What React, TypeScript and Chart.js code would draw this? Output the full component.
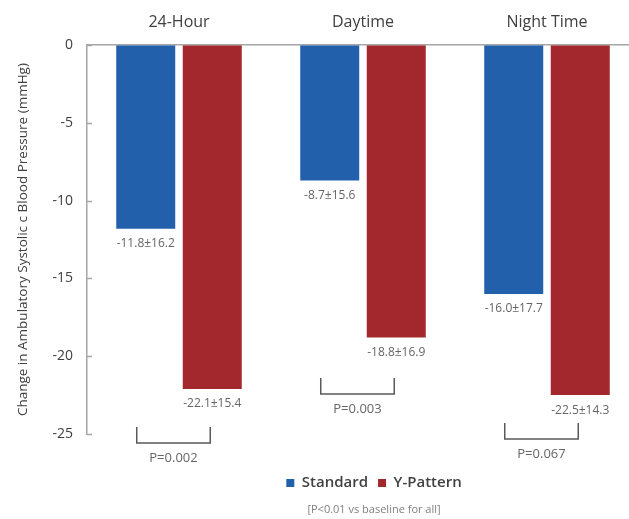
import React, { useEffect, useRef } from 'react';
import { Chart, registerables } from 'chart.js';

Chart.register(...registerables);

const categories = ['24-Hour', 'Daytime', 'Night Time'];
const seriesNames = ['Standard', 'Y-Pattern'];
const standardValues = [-11.8, -8.7, -16.0];
const yPatternValues = [-22.1, -18.8, -22.5];
const standardSD = [16.2, 15.6, 17.7];
const yPatternSD = [15.4, 16.9, 14.3];
const pLabels = ['P=0.002', 'P=0.003', 'P=0.067'];
const bracketLevels = [-24.55, -21.4, -24.3];
const yMin = -25;
const yMax = 0;
const yStep = 5;
const yTitle = 'Change in Ambulatory Systolic c Blood Pressure (mmHg)';
const footnote = '[P<0.01 vs baseline for all]';

const FONT = '"Open Sans", "Noto Sans", sans-serif';
const AXIS = '#a6a6a6';
const TEXT = '#404040';
const BLUE = '#2260ab';
const RED = '#a3282d';

const annotatePlugin = {
  id: 'annotate',
  afterDatasetsDraw(chart: any) {
    const ctx = chart.ctx;
    const y = chart.scales.y;
    const area = chart.chartArea;
    ctx.save();
    // inward tick marks on the value axis
    ctx.strokeStyle = AXIS;
    ctx.lineWidth = 1.5;
    y.ticks.forEach((t: any) => {
      const py = Math.round(y.getPixelForValue(t.value)) + 0.5;
      ctx.beginPath();
      ctx.moveTo(area.left, py);
      ctx.lineTo(area.left + 5, py);
      ctx.stroke();
    });
    // value labels
    const sds = [standardSD, yPatternSD];
    ctx.font = `12px ${FONT}`;
    ctx.fillStyle = '#666666';
    ctx.textAlign = 'center';
    ctx.textBaseline = 'middle';
    chart.data.datasets.forEach((ds: any, di: number) => {
      const meta = chart.getDatasetMeta(di);
      meta.data.forEach((bar: any, i: number) => {
        const v = ds.data[i] as number;
        ctx.fillText(`${v.toFixed(1)}±${sds[di][i].toFixed(1)}`, bar.x, bar.y + 15);
      });
    });
    // brackets with p-values
    const m0 = chart.getDatasetMeta(0);
    const m1 = chart.getDatasetMeta(1);
    ctx.strokeStyle = '#595959';
    ctx.lineWidth = 1.5;
    ctx.font = `13px ${FONT}`;
    ctx.fillStyle = '#666666';
    categories.forEach((_c, i) => {
      const left = m0.data[i].x - 9;
      const right = m1.data[i].x - 2;
      const top = y.getPixelForValue(bracketLevels[i]);
      const bottom = top + 16;
      ctx.beginPath();
      ctx.moveTo(left, top);
      ctx.lineTo(left, bottom);
      ctx.lineTo(right, bottom);
      ctx.lineTo(right, top);
      ctx.stroke();
      ctx.fillText(pLabels[i], (left + right) / 2, bottom + 15);
    });
    ctx.restore();
  },
};

export default function App() {
  const ref = useRef<HTMLCanvasElement | null>(null);

  useEffect(() => {
    if (!ref.current) return;
    const chart = new Chart(ref.current, {
      type: 'bar',
      data: {
        labels: categories,
        datasets: [
          {
            label: seriesNames[0],
            data: standardValues,
            backgroundColor: BLUE,
            yAxisID: 'y',
            categoryPercentage: 0.723,
            barPercentage: 0.887,
          },
          {
            label: seriesNames[1],
            data: yPatternValues,
            backgroundColor: RED,
            yAxisID: 'y',
            categoryPercentage: 0.723,
            barPercentage: 0.887,
          },
        ],
      },
      options: {
        responsive: false,
        animation: false,
        devicePixelRatio: 1,
        layout: { padding: { top: 0, left: 0, right: 0, bottom: 0 } },
        scales: {
          x: {
            type: 'category',
            position: 'top',
            grid: { display: false, drawTicks: false },
            border: { display: true, color: AXIS, width: 1.5 },
            ticks: { color: TEXT, font: { family: FONT, size: 16 }, padding: 13 },
          },
          y: {
            type: 'linear',
            position: 'left',
            min: yMin,
            max: yMax,
            ticks: { stepSize: yStep, color: TEXT, font: { family: FONT, size: 14 }, padding: 14 },
            grid: { display: false, drawTicks: false },
            border: { display: true, color: AXIS, width: 1.5 },
            title: {
              display: true,
              text: yTitle,
              color: TEXT,
              font: { family: FONT, size: 13.5 },
              padding: { top: 15, bottom: 0 },
            },
            afterFit: (s: any) => {
              s.width = 87;
            },
          },
          y2: {
            type: 'linear',
            position: 'right',
            display: true,
            grid: { display: false, drawTicks: false },
            border: { display: false },
            ticks: { display: false },
            afterFit: (s: any) => {
              s.width = 109;
            },
          },
        },
        plugins: {
          legend: {
            display: true,
            position: 'bottom',
            labels: {
              boxWidth: 8,
              boxHeight: 8,
              padding: 10,
              color: TEXT,
              font: { family: FONT, size: 15, weight: '600' },
            },
          },
          title: {
            display: true,
            text: '',
            position: 'bottom',
            weight: 500,
            font: { family: FONT, size: 10 },
            padding: { top: 10, bottom: 9.5 },
          },
          subtitle: {
            display: true,
            text: footnote,
            position: 'bottom',
            color: '#808080',
            font: { family: FONT, size: 11 },
            padding: { top: 3, bottom: 2.3 },
          },
          tooltip: { enabled: false },
        },
      },
      plugins: [annotatePlugin],
    } as any);
    return () => chart.destroy();
  }, []);

  return (
    <div style={{ position: 'absolute', left: 0, top: 0, width: 629, height: 519, overflow: 'hidden', background: '#fff' }}>
      <canvas ref={ref} width={748} height={519} style={{ width: 748, height: 519, display: 'block' }} />
    </div>
  );
}
